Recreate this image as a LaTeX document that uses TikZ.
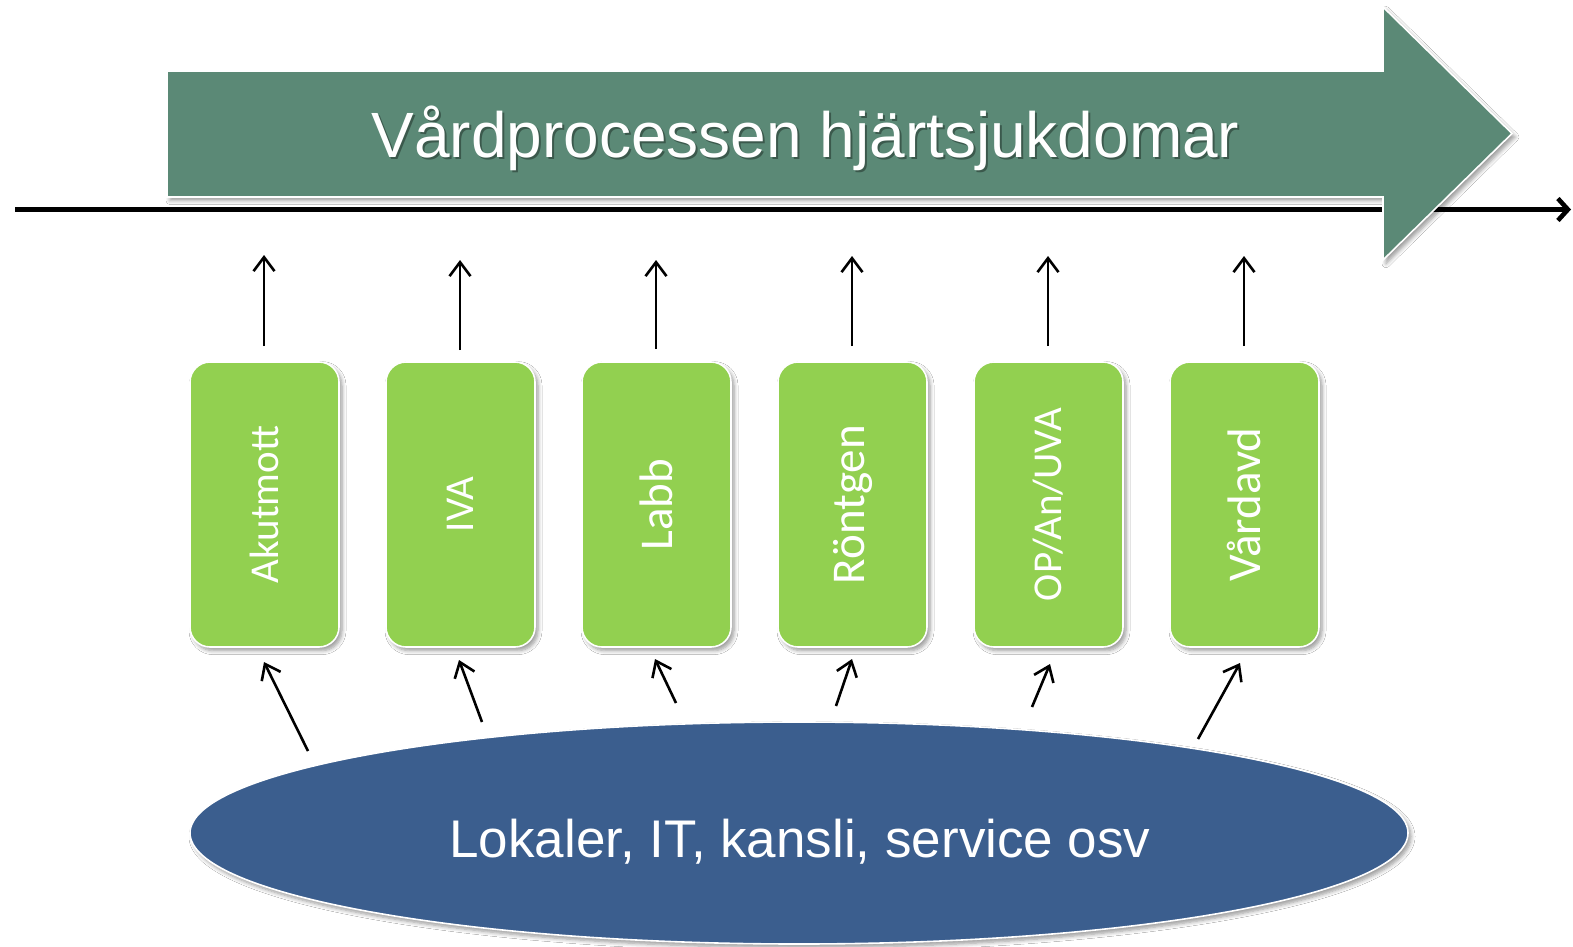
\documentclass[tikz,border=0pt]{standalone}
\usepackage{fontspec}
\setmainfont{Carlito}
\newfontfamily\arialf{Liberation Sans}
\usepackage{graphicx}
\usetikzlibrary{arrows.meta,shapes.geometric,shadows.blur}
\definecolor{arrowgreen}{RGB}{91,137,118}
\definecolor{boxgreen}{RGB}{146,208,80}
\definecolor{ellblue}{RGB}{59,94,142}
\tikzset{
  softshadow/.style={blur shadow={shadow xshift=1.5pt,shadow yshift=-1.8pt,shadow blur steps=6,shadow blur radius=2pt,shadow opacity=40}},
  unitbox/.style={rectangle,rounded corners=10pt,fill=boxgreen,draw=white,line width=0.8pt,
    minimum width=74.5pt,minimum height=142.5pt,inner sep=0pt,text=white,softshadow},
  lighttext/.style={font=\fontsize{20.5}{24}\selectfont},
  regtext/.style={font=\fontsize{23.5}{27}\selectfont},
  uparrow/.style={line width=1.3pt,-{Straight Barb[length=7pt,width=10.5pt]}},
  timeline/.style={line width=2.3pt,-{Straight Barb[length=5pt,width=11pt]}},
  baseell/.style={ellipse,fill=ellblue,draw=white,line width=0.8pt,minimum width=609pt,minimum height=111pt,inner sep=0pt,softshadow},
}
\begin{document}
\begin{tikzpicture}[x=0.5pt,y=-0.5pt]
\useasboundingbox (0,0) rectangle (1573,947);
\fill[white] (0,0) rectangle (1573,947);

% time line
\coordinate (tl) at (15,209.5);
\coordinate (tr) at (1571,209.5);
\draw[timeline] (tl) -- (tr);

% big process arrow
\path[fill=arrowgreen,draw=white,line width=0.8pt,softshadow]
  (167,71) -- (1383,71) -- (1383,7) -- (1512,133.5) -- (1383,260) -- (1383,197) -- (167,197) -- cycle;
\node[anchor=base,text=black,opacity=0.35,font=\arialf\fontsize{32}{38}\selectfont] at (807.5,159.5) {Vårdprocessen hjärtsjukdomar};
\node[anchor=base,text=white,font=\arialf\fontsize{32}{38}\selectfont] (title) at (805.5,157.5) {Vårdprocessen hjärtsjukdomar};

% unit boxes
\node[unitbox,lighttext] (b1) at (264.5,504.5) {\rotatebox{90}{Akutmott}};
\node[unitbox,lighttext] (b2) at (460.5,504.5) {\rotatebox{90}{IVA}};
\node[unitbox,regtext]   (b3) at (656.5,504.5) {\rotatebox{90}{Labb}};
\node[unitbox,regtext]   (b4) at (852.5,504.5) {\rotatebox{90}{Röntgen}};
\node[unitbox,lighttext] (b5) at (1048.5,504.5) {\rotatebox{90}{OP/An/UVA}};
\node[unitbox,regtext]   (b6) at (1244.5,504.5) {\rotatebox{90}{Vårdavd}};

% arrows up to the process
\coordinate (u1a) at (264,346);  \coordinate (u1b) at (264,255);
\coordinate (u2a) at (460,350);  \coordinate (u2b) at (460,260);
\coordinate (u3a) at (656,349);  \coordinate (u3b) at (656,260);
\coordinate (u4a) at (852,346);  \coordinate (u4b) at (852,256);
\coordinate (u5a) at (1048,346); \coordinate (u5b) at (1048,256);
\coordinate (u6a) at (1244,346); \coordinate (u6b) at (1244,256);
\foreach \i in {1,...,6} \draw[uparrow] (u\i a) -- (u\i b);

% base ellipse
\node[baseell] (base) at (799,833) {};
\node[anchor=base,text=white,font=\arialf\fontsize{26.5}{30}\selectfont] (basetext) at (800,857) {Lokaler, IT, kansli, service osv};

% arrows from base to units
\coordinate (d1a) at (308,751);  \coordinate (d1b) at (264,662);
\coordinate (d2a) at (482,722);  \coordinate (d2b) at (459,660);
\coordinate (d3a) at (676,703);  \coordinate (d3b) at (655,659);
\coordinate (d4a) at (836,706);  \coordinate (d4b) at (852,659);
\coordinate (d5a) at (1032,707); \coordinate (d5b) at (1050,664);
\coordinate (d6a) at (1198,739); \coordinate (d6b) at (1240,663);
\foreach \i in {1,...,6} \draw[uparrow] (d\i a) -- (d\i b);
\end{tikzpicture}
\end{document}
